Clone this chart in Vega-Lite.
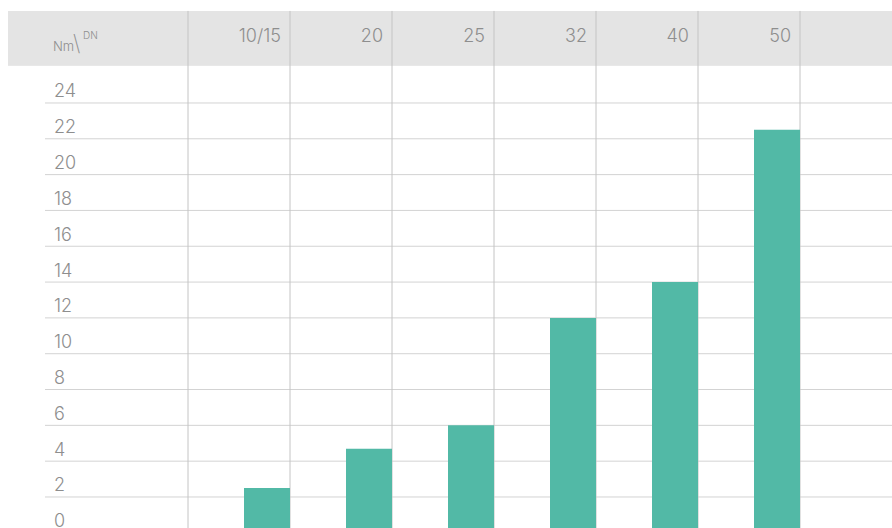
{
  "$schema": "https://vega.github.io/schema/vega-lite/v6.json",
  "width": 816,
  "height": 528,
  "autosize": "none",
  "padding": {"left": 76, "top": 0, "right": 0, "bottom": 0},
  "background": "white",
  "config": {"view": {"stroke": null}},
  "datasets": {
    "torque": [
      {"DN": "10/15", "Nm": 2.5},
      {"DN": "20", "Nm": 4.7},
      {"DN": "25", "Nm": 6},
      {"DN": "32", "Nm": 12},
      {"DN": "40", "Nm": 14},
      {"DN": "50", "Nm": 22.5}
    ],
    "ticks": [
      {"v": 0}, {"v": 2}, {"v": 4}, {"v": 6}, {"v": 8}, {"v": 10}, {"v": 12},
      {"v": 14}, {"v": 16}, {"v": 18}, {"v": 20}, {"v": 22}, {"v": 24}
    ]
  },
  "layer": [
    {
      "data": {"name": "torque"},
      "mark": {"type": "rect", "color": "#e4e4e4"},
      "encoding": {
        "x": {"value": -68},
        "x2": {"value": "width"},
        "y": {"datum": 29.14, "type": "quantitative", "axis": null,
              "scale": {"domain": [0.268, 29.75], "nice": false, "zero": false}},
        "y2": {"datum": 26.1}
      }
    },
    {
      "data": {"name": "ticks"},
      "transform": [{"filter": "datum.v > 0"}],
      "mark": {"type": "rule", "color": "#d3d3d3", "strokeWidth": 1},
      "encoding": {
        "x": {"value": -31},
        "x2": {"value": "width"},
        "y": {"field": "v", "type": "quantitative", "axis": null}
      }
    },
    {
      "data": {"name": "torque"},
      "mark": {"type": "rule", "color": "#c4c4c4", "strokeWidth": 1, "clip": true},
      "encoding": {
        "x": {"field": "DN", "type": "nominal", "bandPosition": 1, "axis": null,
              "scale": {"domain": ["10/15", "20", "25", "32", "40", "50"], "paddingInner": 0, "paddingOuter": 1, "align": 0.54902}},
        "y": {"datum": 29.14, "type": "quantitative"},
        "y2": {"datum": 0}
      }
    },
    {
      "data": {"values": [{"edge": "left"}]},
      "mark": {"type": "rule", "color": "#c4c4c4", "strokeWidth": 1, "clip": true},
      "encoding": {
        "x": {"datum": "10/15", "type": "nominal", "bandPosition": 0},
        "y": {"datum": 29.14, "type": "quantitative"},
        "y2": {"datum": 0}
      }
    },
    {
      "data": {"name": "torque"},
      "mark": {"type": "bar", "color": "#52b9a6", "width": 46, "xOffset": 28, "clip": true},
      "encoding": {
        "x": {"field": "DN", "type": "nominal"},
        "y": {"field": "Nm", "type": "quantitative"},
        "y2": {"datum": 0}
      }
    },
    {
      "data": {"name": "torque"},
      "mark": {"type": "text", "align": "right", "baseline": "alphabetic", "dx": -9,
               "font": "Inter", "fontWeight": 300, "fontSize": 18, "color": "#8e8e8e"},
      "encoding": {
        "x": {"field": "DN", "type": "nominal", "bandPosition": 1},
        "y": {"datum": 27.43, "type": "quantitative"},
        "text": {"field": "DN"}
      }
    },
    {
      "data": {"name": "ticks"},
      "mark": {"type": "text", "align": "left", "baseline": "alphabetic", "dy": -5.5,
               "font": "Inter", "fontWeight": 300, "fontSize": 18, "color": "#8e8e8e"},
      "encoding": {
        "x": {"value": -22},
        "y": {"field": "v", "type": "quantitative"},
        "text": {"field": "v"}
      }
    },
    {
      "data": {"values": [{"t": "Nm"}]},
      "mark": {"type": "text", "align": "left", "baseline": "alphabetic",
               "font": "Inter", "fontWeight": 300, "fontSize": 13, "color": "#8e8e8e"},
      "encoding": {
        "x": {"value": -23},
        "y": {"datum": 26.9, "type": "quantitative"},
        "text": {"field": "t"}
      }
    },
    {
      "data": {"values": [{"t": "\\"}]},
      "mark": {"type": "text", "align": "left", "baseline": "alphabetic",
               "font": "Inter", "fontWeight": 200, "fontSize": 22, "color": "#8e8e8e"},
      "encoding": {
        "x": {"value": -3},
        "y": {"datum": 26.88, "type": "quantitative"},
        "text": {"field": "t"}
      }
    },
    {
      "data": {"values": [{"t": "DN"}]},
      "mark": {"type": "text", "align": "left", "baseline": "alphabetic",
               "font": "Inter", "fontWeight": 300, "fontSize": 10, "color": "#8e8e8e"},
      "encoding": {
        "x": {"value": 7},
        "y": {"datum": 27.57, "type": "quantitative"},
        "text": {"field": "t"}
      }
    }
  ]
}
